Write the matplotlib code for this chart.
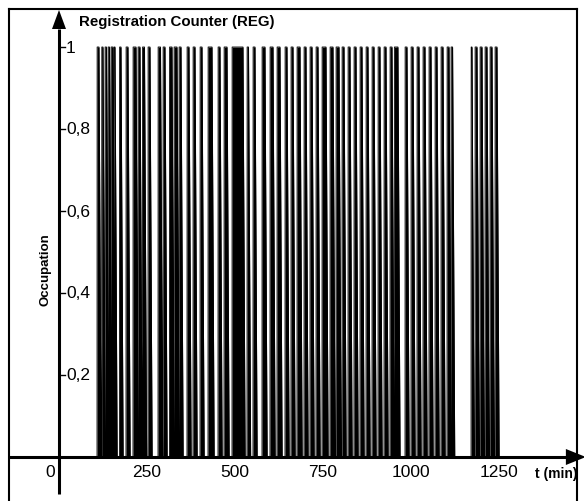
import numpy as np
import matplotlib.pyplot as plt

# ── Datos: intervalos de ocupación del mostrador de registro (min) ──────────
t_on = [108, 121.3, 130.7, 139.2, 147.7, 156.3, 171.9, 190.3, 210.2, 224.4,
        237.2, 252.8, 281.3, 295.5, 313.9, 326.7, 340.9, 363.6, 380.7, 400.6,
        423.3, 451.7, 468.8, 491.5, 534.1, 551.1, 576.7, 599.4, 619.3, 642,
        659, 676.1, 696, 713, 730.1, 747.2, 769.9, 786.9, 804, 821,
        838, 855.1, 872.2, 889.2, 906.3, 923.3, 940.3, 952.5, 983, 1000,
        1017, 1034, 1051, 1068.2, 1085.2, 1102.3, 1113.6, 1170.6, 1181.8, 1196,
        1210.2, 1224.4, 1238.6]
t_off = [113.6, 125, 134.9, 143.5, 153.4, 159.1, 176.1, 196, 218.8, 230.1,
         242.9, 258.5, 288.4, 301.1, 321, 335.2, 346.6, 369.3, 386.4, 406.3,
         434.7, 457.4, 477.3, 522.7, 538.4, 556.8, 585.2, 608, 627.8, 647.7,
         664.8, 684.7, 701.7, 718.8, 735.8, 758.5, 778.4, 795.5, 809.7, 826.7,
         843.8, 860.8, 877.8, 894.9, 911.9, 929, 946, 962.9, 988.6, 1005.7,
         1022.7, 1039.8, 1056.8, 1073.9, 1090.9, 1108, 1118.2, 1173.3, 1187.5, 1201.7,
         1215.9, 1230.1, 1244.3]
fall_min = 6  # duración del descenso 1 -> 0

x_ticks = [0, 250, 500, 750, 1000, 1250]
y_ticks = [0.2, 0.4, 0.6, 0.8, 1.0]
y_labels = ['0,2', '0,4', '0,6', '0,8', '1']

# ── Señal de ocupación ──────────────────────────────────────────────────────
t = np.arange(0, 1300, 0.05)
occ = np.zeros_like(t)
for a, b in zip(t_on, t_off):
    y = np.where((t >= a) & (t <= b), 1.0, 0.0)
    ramp = (t > b) & (t < b + fall_min)
    y[ramp] = 1 - (t[ramp] - b) / fall_min
    occ = np.maximum(occ, y)

plt.rcParams['font.family'] = ['Liberation Sans', 'DejaVu Sans']

fig = plt.figure(figsize=(5.84, 5.02), dpi=100)
ax = fig.add_axes([0, 0, 1, 1])
sx = 0.352   # px por minuto
x0 = 59      # px del origen
ax.set_xlim(-x0 / sx, (584 - x0) / sx)
ax.set_ylim(-44 / 410, 1 + 48 / 410)
ax.axis('off')

ax.fill_between(t, 0, occ, color='black', lw=0)
ax.plot(t, occ, color='black', lw=0.6)

# ejes con flechas
kx = 1 / sx        # min por px
ky = 1 / 410       # unidades por px
ax.plot([-144, 1440], [0, 0], color='black', lw=2.2, solid_capstyle='butt')
ax.fill([1440, 1440, 1440 + 20 * kx], [-8 * ky, 8 * ky, 0], color='black', lw=0)
ax.plot([0, 0], [-0.09, 1 + 18 * ky], color='black', lw=2.2, solid_capstyle='butt')
ax.fill([-7 * kx, 7 * kx, 0], [1 + 18 * ky, 1 + 18 * ky, 1 + 37 * ky],
        color='black', lw=0)

for yv in y_ticks:
    ax.plot([0, 6 * kx], [yv, yv], color='black', lw=1)

for xv in x_ticks:
    lab = str(xv)
    xp = xv if xv else -9 * kx
    ax.text(xp, -7 * ky, lab, ha='center', va='top', fontsize=12.5)
for yv, lab in zip(y_ticks, y_labels):
    ax.text(7 * kx, yv, lab, ha='left', va='center', fontsize=12.5)

ax.text(1352, -9 * ky, 't (min)', ha='left', va='top', fontsize=10,
        fontweight='bold')
ax.text(-14 * kx, 0.46, 'Occupation', rotation=90, ha='center', va='center',
        fontsize=9.5, fontweight='bold')
ax.text(20 * kx, 1 + 26 * ky, 'Registration Counter (REG)', ha='left',
        va='center', fontsize=10.8, fontweight='bold')

# marco
fig.add_artist(plt.Line2D([9 / 584, 9 / 584], [0, 1 - 10 / 502],
                          transform=fig.transFigure, color='black', lw=1.5))
fig.add_artist(plt.Line2D([9 / 584, 577 / 584], [1 - 10 / 502, 1 - 10 / 502],
                          transform=fig.transFigure, color='black', lw=1.5))
fig.add_artist(plt.Line2D([577 / 584, 577 / 584], [0, 1 - 10 / 502],
                          transform=fig.transFigure, color='black', lw=1.5))

fig.savefig('out.png', dpi=100)
